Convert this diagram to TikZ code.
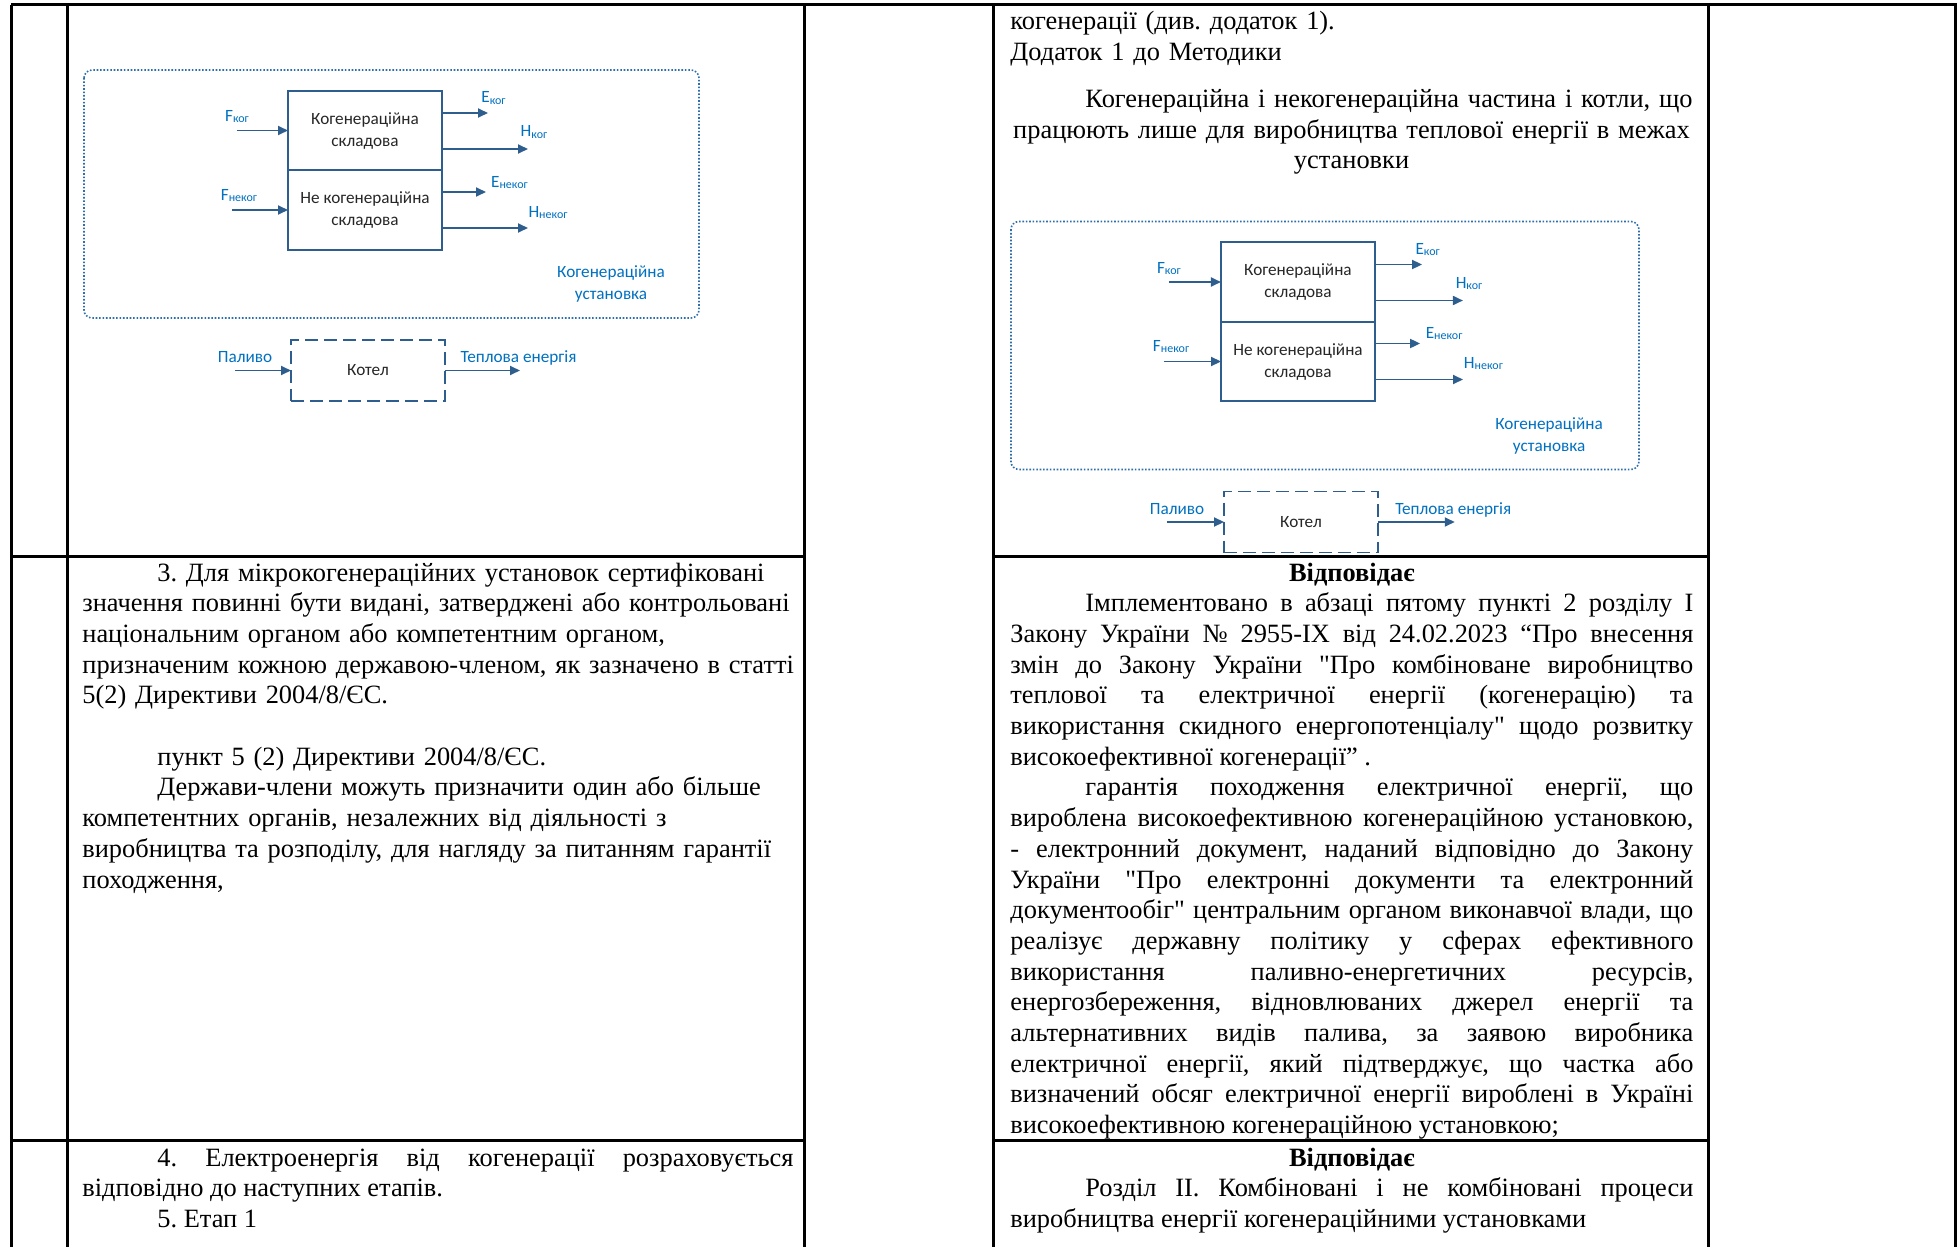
\documentclass[tikz,border=0pt]{standalone}
\usepackage{fontspec}
\newfontfamily\bodyfont{Liberation Serif}
\newfontfamily\diagfont{Carlito}
\usetikzlibrary{positioning,calc,arrows.meta}

\definecolor{lblblue}{RGB}{0,112,192}
\definecolor{linkblue}{RGB}{46,94,142}
\definecolor{frameblue}{RGB}{46,110,170}

\frenchspacing
\tolerance=10000 \hbadness=10000 \hfuzz=5pt
\hyphenpenalty=10000 \exhyphenpenalty=10000

\newcommand{\idx}[1]{\raisebox{-0.7pt}{\fontsize{6}{6}\selectfont #1}}
\newcommand{\ind}{\hspace*{37.5pt}}

% scheme of the cogeneration unit and the boiler
\newcommand{\chpscheme}{%
  \draw[unitframe] (84,70) rectangle (699,318);
  \node[lbl, align=center] (unit) at (611,284) {Когенераційна\\установка};
  \node[partbox] (kog) at (365,130.5) {Когенераційна\\складова};
  \node[partbox, below=0pt of kog] (nekog) {Не когенераційна\\складова};
  \coordinate (fkog) at ($(kog.west)+(-51,0)$);
  \coordinate (fnekog) at ($(nekog.west)+(-56,0)$);
  \coordinate (ekog) at ($(kog.east)+(46,-17.5)$);
  \coordinate (hkog) at ($(kog.east)+(86,18.5)$);
  \coordinate (enekog) at ($(nekog.east)+(44,-18)$);
  \coordinate (hnekog) at ($(nekog.east)+(86,18)$);
  \draw[flow] (fkog) -- (kog.west);
  \draw[flow] (fnekog) -- (nekog.west);
  \draw[flow] (kog.east |- ekog) -- (ekog);
  \draw[flow] (kog.east |- hkog) -- (hkog);
  \draw[flow] (nekog.east |- enekog) -- (enekog);
  \draw[flow] (nekog.east |- hnekog) -- (hnekog);
  \node[lbl, anchor=base] (fkogl) at ($(fkog)+(0,-9)$) {F\idx{ког}};
  \node[lbl, anchor=base] (fnekogl) at ($(fnekog)+(7,-10)$) {F\idx{неког}};
  \node[lbl, anchor=base] (ekogl) at ($(ekog)+(5.5,-10)$) {E\idx{ког}};
  \node[lbl, anchor=base] (hkogl) at ($(hkog)+(6,-12)$) {H\idx{ког}};
  \node[lbl, anchor=base] (enekogl) at ($(enekog)+(23.5,-5)$) {E\idx{неког}};
  \node[lbl, anchor=base] (hnekogl) at ($(hnekog)+(20,-11)$) {H\idx{неког}};
  % boiler
  \node[boiler] (kotel) at (368,370.5) {Котел};
  \coordinate (fuel) at ($(kotel.west)+(-56,0)$);
  \coordinate (heat) at ($(kotel.east)+(75,0)$);
  \draw[flow] (fuel) -- (kotel.west);
  \draw[flow] (kotel.east) -- (heat);
  \node[lbl, anchor=base] (fuell) at ($(fuel)+(10,-8)$) {Паливо};
  \node[lbl, anchor=base] (heatl) at ($(heat)+(-1.5,-8)$) {Теплова енергія};
}

\begin{document}
\begin{tikzpicture}[x=0.5pt,y=-0.5pt,
    grid/.style={line width=1.5pt},
    body/.style={inner sep=0pt, anchor=base west, font=\bodyfont\fontsize{13.2}{15.35}\selectfont},
    partbox/.style={draw=linkblue, line width=1pt, outer sep=0pt, minimum width=77pt,
      minimum height=39.75pt, align=center, text=black!85,
      font=\diagfont\fontsize{8.6}{11}\selectfont},
    boiler/.style={draw=linkblue, line width=0.9pt, dash pattern=on 6.5pt off 3pt,
      minimum width=77pt, minimum height=30.5pt, outer sep=0pt, text=black!85,
      font=\diagfont\fontsize{8.6}{11}\selectfont},
    lbl/.style={text=lblblue, inner sep=0pt, font=\diagfont\fontsize{8.6}{11}\selectfont},
    flow/.style={draw=linkblue, line width=0.9pt, -{Triangle[length=5pt,width=4.5pt]}},
    unitframe/.style={draw=frameblue, line width=0.8pt, dash pattern=on 0.8pt off 0.9pt,
      rounded corners=4pt}]
  \useasboundingbox (0,0) rectangle (1959,1247);

  % table
  \draw[grid] (11,5) -- (1957,5);
  \foreach \x in {11,67,804,993,1708,1955}
    \draw[grid] (\x,5) -- (\x,1247);
  \foreach \y in {556,1140} {
    \draw[grid] (11,\y) -- (804,\y);
    \draw[grid] (993,\y) -- (1708,\y);
  }

  % row 1
  \begin{scope}[name prefix=A-]
    \chpscheme
  \end{scope}
  \node[body, text width=341.5pt, align=left] (annexref) at (1010,30)
    {когенерації (див. додаток 1).\\Додаток 1 до Методики};
  \node[body, anchor=base, text width=390pt, align=center] (annextitle) at (1351.5,107.5)
    {\ind Когенераційна і некогенераційна частина і котли, що\\працюють лише для
     виробництва теплової енергії в межах\\установки};
  \begin{scope}[name prefix=B-, shift={(925.2,151.5)}, xscale=1.0211]
    \chpscheme
  \end{scope}

  % row 2
  \node[body, text width=380pt, align=left] (article) at (82,581)
    {\ind 3. Для мікрокогенераційних установок сертифіковані\\значення повинні бути
     видані, затверджені або контрольовані\\національним органом або компетентним
     органом,\\призначеним кожною державою-членом, як зазначено в статті\\5(2) Директиви
     2004/8/ЄС.\\[15.35pt]\ind пункт 5 (2) Директиви 2004/8/ЄС.\\\ind Держави-члени
     можуть призначити один або більше\\компетентних органів, незалежних від діяльності
     з\\виробництва та розподілу, для нагляду за питанням гарантії\\походження,};
  \node[body, text width=341.5pt, align=justify] (impl) at (1010,581)
    {{\centering\bfseries Відповідає\par}
     \ind Імплементовано в абзаці пятому пункті 2 розділу I\linebreak
     Закону України № 2955-IX від 24.02.2023 “Про внесення\linebreak
     змін до Закону України "Про комбіноване виробництво\linebreak
     теплової та електричної енергії (когенерацію) та\linebreak
     використання скидного енергопотенціалу" щодо розвитку\linebreak
     високоефективної когенерації” .\par
     \ind гарантія походження електричної енергії, що\linebreak
     вироблена високоефективною когенераційною установкою,\linebreak
     - електронний документ, наданий відповідно до Закону\linebreak
     України "Про електронні документи та електронний\linebreak
     документообіг" центральним органом виконавчої влади, що\linebreak
     реалізує державну політику у сферах ефективного\linebreak
     використання паливно-енергетичних ресурсів,\linebreak
     енергозбереження, відновлюваних джерел енергії та\linebreak
     альтернативних видів палива, за заявою виробника\linebreak
     електричної енергії, який підтверджує, що частка або\linebreak
     визначений обсяг електричної енергії вироблені в Україні\linebreak
     високоефективною когенераційною установкою;};

  % row 3
  \node[body, text width=355.5pt, align=justify] (stage) at (82,1166)
    {\ind 4. Електроенергія від когенерації розраховується\linebreak
     відповідно до наступних етапів.\par\ind 5. Етап 1};
  \node[body, text width=341.5pt, align=justify] (section) at (1010,1166)
    {{\centering\bfseries Відповідає\par}
     \ind Розділ II. Комбіновані і не комбіновані процеси\linebreak
     виробництва енергії когенераційними установками};
\end{tikzpicture}
\end{document}
